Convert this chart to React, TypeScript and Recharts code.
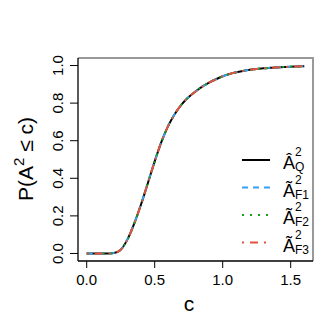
import React from "react";
import { LineChart, Line, XAxis, YAxis, Customized, usePlotArea } from "recharts";

const cValues = [0, 0.05, 0.1, 0.15, 0.2, 0.25, 0.3, 0.35, 0.4, 0.45, 0.5, 0.55, 0.6, 0.65, 0.7, 0.75, 0.8, 0.85, 0.9, 0.95, 1.0, 1.05, 1.1, 1.15, 1.2, 1.25, 1.3, 1.35, 1.4, 1.45, 1.5, 1.55, 1.6];
const pAQ = [0, 0, 0, 0, 0.003, 0.02, 0.075, 0.16, 0.262, 0.375, 0.49, 0.595, 0.68, 0.745, 0.795, 0.832, 0.862, 0.888, 0.909, 0.927, 0.943, 0.955, 0.964, 0.971, 0.977, 0.982, 0.985, 0.988, 0.99, 0.992, 0.994, 0.995, 0.996];
const pAF1 = [0, 0, 0, 0, 0.003, 0.02, 0.076, 0.161, 0.263, 0.376, 0.491, 0.595, 0.68, 0.745, 0.795, 0.832, 0.862, 0.888, 0.909, 0.927, 0.943, 0.955, 0.964, 0.971, 0.977, 0.982, 0.985, 0.988, 0.99, 0.992, 0.994, 0.995, 0.996];
const pAF2 = [0, 0, 0, 0, 0.003, 0.02, 0.075, 0.16, 0.262, 0.375, 0.49, 0.594, 0.679, 0.744, 0.795, 0.832, 0.862, 0.888, 0.909, 0.927, 0.943, 0.955, 0.964, 0.971, 0.977, 0.982, 0.985, 0.988, 0.99, 0.992, 0.994, 0.995, 0.996];
const pAF3 = [0, 0, 0, 0, 0.003, 0.02, 0.075, 0.16, 0.262, 0.375, 0.49, 0.595, 0.68, 0.745, 0.795, 0.832, 0.862, 0.888, 0.909, 0.927, 0.943, 0.955, 0.964, 0.971, 0.977, 0.982, 0.985, 0.988, 0.99, 0.992, 0.994, 0.995, 0.996];
const xTicks = [0, 0.5, 1.0, 1.5];
const yTicks = [0, 0.2, 0.4, 0.6, 0.8, 1.0];

const seriesKeys = ["AQ", "AF1", "AF2", "AF3"];
const seriesSubs = ["Q", "F1", "F2", "F3"];
const seriesAccents = ["Â", "Ã", "Ã", "Ã"];
const seriesColors = ["#000000", "#3AA0F0", "#1E9A1E", "#E0533C"];
const seriesDash = [undefined, "6 5", "2 6", "2 6 8 6"];
const BOX_COLOR = "#999999";

const data = cValues.map((c, i) => ({ c, AQ: pAQ[i], AF1: pAF1[i], AF2: pAF2[i], AF3: pAF3[i] }));

const FONT = "'Liberation Sans', Arial, Helvetica, sans-serif";

const YTick = (props: any) => {
  const { x, y, payload } = props;
  return (
    <text x={x} y={y} transform={`rotate(-90 ${x} ${y})`} textAnchor="middle" fontSize={15} fontFamily={FONT} fill="#000">
      {payload.value.toFixed(1)}
    </text>
  );
};

const BoxLines = () => {
  const pa: any = usePlotArea();
  if (!pa) return null;
  const { x, y, width, height } = pa;
  return (
    <path d={`M${x},${y}H${x + width}V${y + height}`} fill="none" stroke={BOX_COLOR} strokeWidth={2} />
  );
};

const LegendBox = () => {
  const x0 = 242;
  const x1 = 270;
  const y0 = 160;
  const step = 27.5;
  return (
    <g>
      {seriesKeys.map((k, i) => {
        const y = y0 + i * step;
        return (
          <g key={k}>
            <line x1={x0} x2={x1} y1={y} y2={y} stroke={seriesColors[i]} strokeWidth={2} strokeDasharray={seriesDash[i]} />
            <text x={283} y={y + 9} fontSize={18} fontFamily={FONT} fill="#000">
              {seriesAccents[i]}
              <tspan x={295} y={y - 4} fontSize={12}>2</tspan>
              <tspan x={295} y={y + 11} fontSize={12}>{seriesSubs[i]}</tspan>
            </text>
          </g>
        );
      })}
    </g>
  );
};

const Titles = () => (
  <g>
    <text x={189} y={311} textAnchor="middle" fontSize={21} fontFamily={FONT} fill="#000">c</text>
    <text x={33} y={159} transform="rotate(-90 33 159)" textAnchor="middle" fontSize={21} fontFamily={FONT} fill="#000">
      P(A<tspan fontSize={15} dy={-9}>2</tspan><tspan dy={9}> ≤ c)</tspan>
    </text>
  </g>
);

export default function App() {
  return (
    <div style={{ position: "absolute", left: 0, top: 0, background: "#fff" }}>
      <LineChart width={327} height={327} data={data} margin={{ top: 58, right: 14, bottom: 26, left: 0 }}>
        <XAxis
          dataKey="c"
          type="number"
          domain={[-0.064, 1.664]}
          allowDataOverflow
          ticks={xTicks}
          tickFormatter={(v: number) => v.toFixed(1)}
          tick={{ fontSize: 15, fontFamily: FONT, fill: "#000" }}
          tickSize={7}
          tickMargin={6}
          height={40}
          axisLine={{ stroke: "#000", strokeWidth: 1.3 }}
          tickLine={{ stroke: "#000" }}
        />
        <XAxis
          xAxisId="top"
          orientation="top"
          dataKey="c"
          type="number"
          domain={[-0.064, 1.664]}
          allowDataOverflow
          height={0}
          tick={false}
          tickLine={false}
          axisLine={{ stroke: BOX_COLOR, strokeWidth: 2 }}
        />
        <YAxis
          type="number"
          domain={[-0.04, 1.04]}
          allowDataOverflow
          ticks={yTicks}
          tick={<YTick />}
          tickSize={8}
          tickMargin={7}
          width={78}
          axisLine={{ stroke: "#000", strokeWidth: 1.3 }}
          tickLine={{ stroke: "#000" }}
        />
        <YAxis
          yAxisId="right"
          orientation="right"
          type="number"
          domain={[-0.04, 1.04]}
          allowDataOverflow
          width={0}
          tick={false}
          tickLine={false}
          axisLine={{ stroke: BOX_COLOR, strokeWidth: 2 }}
        />
        <Customized component={BoxLines} />
        {seriesKeys.map((k, i) => (
          <Line
            key={k}
            dataKey={k}
            type="monotone"
            stroke={seriesColors[i]}
            strokeWidth={2}
            strokeDasharray={seriesDash[i]}
            dot={false}
            activeDot={false}
            isAnimationActive={false}
          />
        ))}
        <Customized component={LegendBox} />
        <Customized component={Titles} />
      </LineChart>
    </div>
  );
}
